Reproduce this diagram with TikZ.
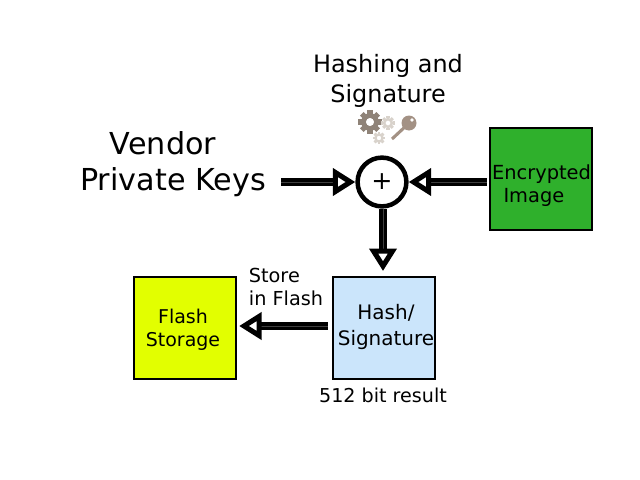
\documentclass[tikz,border=0pt]{standalone}
\usepackage{fontspec}
\setmainfont{DejaVu Sans}
\usepackage{xcolor}
\usetikzlibrary{calc,arrows.meta}
\definecolor{imggreen}{HTML}{2FB02C}
\definecolor{flashyel}{HTML}{E2FF00}
\definecolor{hashblue}{HTML}{CBE5FB}
\definecolor{geardark}{HTML}{8F8378}
\definecolor{gearlite}{HTML}{D8D2CB}
\definecolor{keybrown}{HTML}{A39184}
\tikzset{
  block/.style={draw=black, line width=1.6pt, minimum size=2.55cm, inner sep=0pt},
  flow/.style={draw=black, line width=2.9pt, double=black!75, double distance=0.3pt, -{Triangle[open,fill=white,length=16pt,width=19pt,line width=3.6pt]}},
  lab/.style={inner sep=0pt, align=center},
  labl/.style={inner sep=0pt, align=left},
  boxlab/.style={lab, font=\fontsize{13.8}{16.5}\selectfont},
  mixer/.style={circle, draw=black, line width=3.2pt, fill=white, minimum size=1.22cm, inner sep=0pt, font=\fontsize{18}{20}\selectfont},
  pics/gear/.style args={#1/#2}{code={
    \foreach \a in {0,45,...,315}
      \fill[#2,rotate=\a] (#1*0.7,-#1*0.24) rectangle (#1*1.05,#1*0.24);
    \fill[#2,even odd rule] (0,0) circle (#1*0.8) circle (#1*0.38);
  }},
}
\begin{document}
\begin{tikzpicture}[x=0.025cm,y=-0.025cm]
  \useasboundingbox (0,0) rectangle (640,480);
  % boxes
  \node[block,fill=imggreen] (encrypted) at (541,179) {};
  \node[block,fill=hashblue] (hash) at (384,328) {};
  \node[block,fill=flashyel] (flash) at (185,328) {};
  \node[mixer] (plus) at (382,182) {+};
  % labels
  \node[boxlab] (encryptedtxt) at (541.5,185.5) {Encrypted\\Image\hspace*{0.38cm}};
  \node[boxlab,font=\fontsize{14.2}{18}\selectfont] (hashtxt) at (386,327) {Hash/\\Signature};
  \node[boxlab,font=\fontsize{13.5}{16.5}\selectfont] (flashtxt) at (183,330) {Flash\\Storage};
  \node[lab,font=\fontsize{21.5}{25.6}\selectfont] (vendor) at (173,164) {Vendor\hspace*{0.5cm}\\Private Keys};
  \node[lab,font=\fontsize{17}{21}\selectfont] (hashing) at (388,81) {Hashing and\\Signature};
  \node[labl,font=\fontsize{13.7}{16.5}\selectfont] (store) at (286,287) {Store\\in Flash};
  \node[lab,font=\fontsize{13.6}{17}\selectfont] (bits) at (383,395) {512 bit result};
  % icons
  \pic at (370,122) {gear=11/geardark};
  \pic at (388,123) {gear=6.5/gearlite};
  \pic at (379,138) {gear=6/gearlite};
  \draw[keybrown,line width=2.2pt] (392,139) -- (407,125);
  \fill[keybrown] (409,123) circle (7.5);
  \fill[white] (412,120) circle (1.8);
  % arrows
  \coordinate (vendorout) at (281,182);
  \draw[flow] (vendorout) -- (plus.west);
  \draw[flow] ($(encrypted.west |- plus)+(-2,0)$) -- (plus.east);
  \draw[flow] (plus.south -| 383,0) -- (383,271);
  \draw[flow] ($(hash.west)+(-4,-2)$) -- ($(flash.east)+(2,-2)$);
\end{tikzpicture}
\end{document}
